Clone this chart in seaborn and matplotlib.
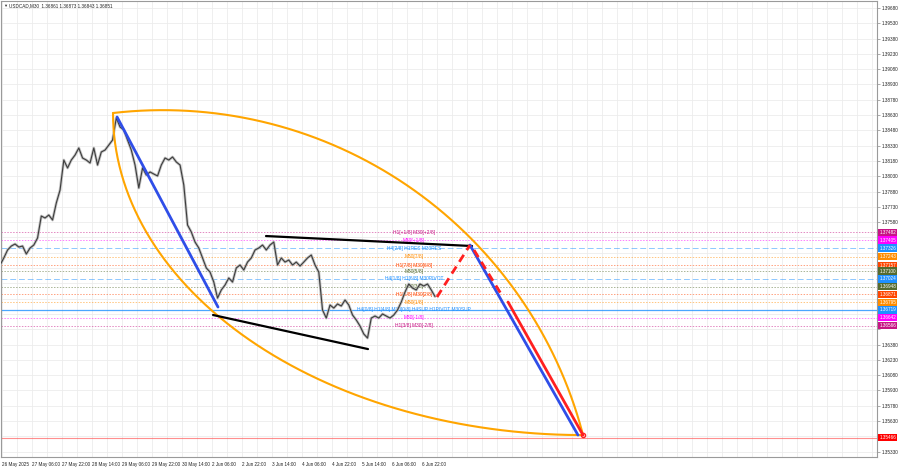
import matplotlib
matplotlib.use("Agg")  # no display in the sandbox
import matplotlib.pyplot as plt
import matplotlib.transforms as mtransforms
import numpy as np
import seaborn as sns

# USDCAD M30 closes, one value every 4 bars (2 hours)
closes = [
    1.37160, 1.37229, 1.37307, 1.37346, 1.37366, 1.37336, 1.37346, 1.37268, 1.37327, 1.37356,
    1.37425, 1.37640, 1.37621, 1.37650, 1.37601, 1.37768, 1.37895, 1.38189, 1.38111, 1.38189,
    1.38238, 1.38307, 1.38209, 1.38189, 1.38160, 1.38307, 1.38140, 1.38268, 1.38287, 1.38336,
    1.38385, 1.38601, 1.38513, 1.38484, 1.38385, 1.38287, 1.38140, 1.37915, 1.38111, 1.38042,
    1.38072, 1.38052, 1.38033, 1.38140, 1.38209, 1.38189, 1.38219, 1.38170, 1.38140, 1.37944,
    1.37552, 1.37484, 1.37385, 1.37327, 1.37229, 1.37131, 1.37091, 1.36993, 1.36836, 1.36915,
    1.36964, 1.37033, 1.36993, 1.37131, 1.37160, 1.37111, 1.37189, 1.37229, 1.37307, 1.37327,
    1.37356, 1.37307, 1.37356, 1.37385, 1.37160, 1.37229, 1.37189, 1.37209, 1.37160, 1.37189,
    1.37150, 1.37189, 1.37229, 1.37258, 1.37160, 1.37091, 1.36719, 1.36640, 1.36768, 1.36738,
    1.36778, 1.36758, 1.36817, 1.36768, 1.36670, 1.36621, 1.36562, 1.36484, 1.36444, 1.36640,
    1.36660, 1.36640, 1.36680, 1.36660, 1.36640, 1.36670, 1.36719, 1.36797, 1.36895, 1.36974,
    1.36934, 1.36915, 1.36974, 1.36954, 1.36974, 1.36915, 1.36851,
]
BAR_STEP = 4  # bars between two values above

# time axis: one label every 32 bars (16 hours)
time_labels = ["26 May 2025", "27 May 06:00", "27 May 22:00", "28 May 14:00", "29 May 06:00",
               "29 May 22:00", "30 May 14:00", "2 Jun 06:00", "2 Jun 22:00", "3 Jun 14:00",
               "4 Jun 06:00", "4 Jun 22:00", "5 Jun 14:00", "6 Jun 06:00", "6 Jun 22:00"]
FIRST_TICK = 2
TICK_STEP = 32

price_labels = ["1.39680", "1.39530", "1.39380", "1.39230", "1.39080", "1.38930", "1.38780",
                "1.38630", "1.38480", "1.38330", "1.38180", "1.38030", "1.37880", "1.37730",
                "1.37580", "1.37430", "1.37280", "1.37130", "1.36980", "1.36830", "1.36680",
                "1.36530", "1.36380", "1.36230", "1.36080", "1.35930", "1.35780", "1.35630",
                "1.35480", "1.35330"]

# Murrey math levels (H4 / H1 / M30)
level_prices = [1.37482, 1.37405, 1.37326, 1.37243, 1.37157, 1.37100, 1.37024,
                1.36948, 1.36871, 1.36795, 1.36719, 1.36642, 1.36566]
level_names = ["H1[+1/8] M30[+2/8]", "M30[+1/8]", "H4[2/8] H1RES M30RES", "M30[7/8]",
               "H1[7/8] M30[6/8]", "M30[5/8]", "H4[1/8] H1[6/8] M30PIVOT", "M30[3/8]",
               "H1[5/8] M30[2/8]", "M30[1/8]", "H4[0/8] H1[4/8] M30[0/8] H4SUP H1PIVOT M30SUP",
               "M30[-1/8]", "H1[3/8] M30[-2/8]"]
target_price = 1.35466

# drawn objects: (bar, price) anchors
blue_leg1 = ([124.8, 232.5], [1.38611, 1.36748])
blue_leg2 = ([501.3, 616.5], [1.37356, 1.35493])
upper_line = ([283.7, 503.5], [1.37444, 1.37346])
lower_line = ([227.2, 392.5], [1.36670, 1.36336])
red_up = ([466.1, 501.3], [1.36846, 1.37356])
red_down_dash = ([505.6, 536.5], [1.37307, 1.36846])
red_down = ([541.9, 621.9], [1.36797, 1.35493])
arc_start = (120.5, 1.38650)
arc_end = (621.9, 1.35493)

# colours
PURPLE = "#c71585"
MAGENTA = "#ff00ff"
BLUE = "#1e90ff"
ORANGE = "#ff8c00"
ORANGERED = "#ff4500"
OLIVE = "#556b2f"
level_colors = [PURPLE, MAGENTA, BLUE, ORANGE, ORANGERED, OLIVE, BLUE,
                OLIVE, ORANGERED, ORANGE, BLUE, MAGENTA, PURPLE]

# screen scale of the chart (pixels per bar, pixels per price unit)
PX_BAR = 0.9375
PX_PRICE = 10200.0


def circle_arc(p0, p1, angle_deg, n=200):
    """arc from p0 to p1 that leaves the chord at angle_deg (screen space)"""
    x0, y0 = p0[0] * PX_BAR, p0[1] * PX_PRICE
    x1, y1 = p1[0] * PX_BAR, p1[1] * PX_PRICE
    a = np.radians(angle_deg)
    chord = np.hypot(x1 - x0, y1 - y0)
    r = chord / (2 * np.sin(a))
    mx, my = (x0 + x1) / 2, (y0 + y1) / 2
    ux, uy = (x1 - x0) / chord, (y1 - y0) / chord
    nx, ny = -uy, ux
    cx, cy = mx - nx * r * np.cos(a), my - ny * r * np.cos(a)
    t0 = np.arctan2(y0 - cy, x0 - cx)
    t1 = np.arctan2(y1 - cy, x1 - cx)
    if t1 > t0:
        t1 -= 2 * np.pi
    t = np.linspace(t0, t1, n)
    return (cx + r * np.cos(t)) / PX_BAR, (cy + r * np.sin(t)) / PX_PRICE


sns.set_theme(style="white")
plt.rcParams["font.family"] = ["Liberation Sans", "DejaVu Sans"]

fig = plt.figure(figsize=(9, 4.68), dpi=100)
ax = fig.add_axes([1 / 900, 11 / 468, 876 / 900, 456 / 468])
ax.set_xlim(1, 935.5)
ax.set_ylim(1.35278, 1.39748)

# grid
for gx in np.arange(FIRST_TICK, 936, TICK_STEP / 2):
    ax.axvline(gx, color="#ececec", lw=0.6, zorder=0)
for lab in price_labels:
    ax.axhline(float(lab), color="#ececec", lw=0.6, zorder=0)

# levels
for p, c in zip(level_prices, level_colors):
    if p == 1.36719:
        ax.axhline(p, color=c, lw=0.9, alpha=0.8, zorder=1)
    elif c == BLUE:
        ax.axhline(p, color=c, lw=0.7, alpha=0.5, ls=(0, (6, 3)), zorder=1)
    else:
        ax.axhline(p, color=c, lw=0.7, alpha=0.5, ls=(0, (1.5, 1.5)), zorder=1)
ax.axhline(target_price, color="#ff6060", lw=0.8, alpha=0.7, zorder=1)

for p, name, c in zip(level_prices, level_names, level_colors):
    ax.text(441.6, p, name, color=c, fontsize=3.5, ha="center", va="center", zorder=2)

# price
bar_x = np.arange(len(closes)) * BAR_STEP
sns.lineplot(x=bar_x, y=closes, ax=ax, color="#b4b4b4", lw=2.0, alpha=0.8, zorder=3)
sns.lineplot(x=bar_x, y=closes, ax=ax, color="#3c3c3c", lw=0.8, zorder=4)

# arcs: upper one is a circle arc on screen, lower one a quarter ellipse
ux_, uy_ = circle_arc(arc_start, arc_end, 41)
ax.plot(ux_, uy_, color="#ffa500", lw=1.5, zorder=5)
theta = np.linspace(0, np.pi / 2, 200)
dx = arc_end[0] - arc_start[0]
dp = arc_start[1] - arc_end[1]
ax.plot(arc_end[0] - dx * np.cos(theta), arc_start[1] - dp * np.sin(theta),
        color="#ffa500", lw=1.5, zorder=5)

# trend lines
ax.plot(*upper_line, color="black", lw=1.6, zorder=6)
ax.plot(*lower_line, color="black", lw=1.6, zorder=6)
ax.plot(*blue_leg1, color="#2f4ee8", lw=2, zorder=6)
ax.plot(*blue_leg2, color="#2f4ee8", lw=2, zorder=6)
ax.plot(*red_up, color="#ff2020", lw=2, ls=(0, (3, 2)), zorder=7)
ax.plot(*red_down_dash, color="#ff2020", lw=2, ls=(0, (3, 2)), zorder=7)
ax.plot(*red_down, color="#ff2020", lw=2, zorder=7)
ax.plot(arc_end[0], arc_end[1], marker="o", ms=3, mfc="none", mec="#ff2020", zorder=8)

# axes
ax.set_xticks([FIRST_TICK + TICK_STEP * i for i in range(len(time_labels))])
ax.set_xticklabels(time_labels, ha="left", fontsize=3.3, color="#222222")
ax.yaxis.tick_right()
shown = []
for lab in price_labels:
    hidden = any(abs(float(lab) - p) < 0.00045 for p in level_prices + [target_price])
    shown.append("" if hidden else lab)
ax.set_yticks([float(lab) for lab in price_labels])
ax.set_yticklabels(shown, fontsize=3.3, color="#222222")
ax.tick_params(axis="both", length=2, width=0.5, color="#888888", pad=1.5)
for s in ax.spines.values():
    s.set_color("#9a9a9a")
    s.set_linewidth(0.8)

# coloured price boxes on the right
trans = mtransforms.blended_transform_factory(ax.transAxes, ax.transData)
for p, c in zip(level_prices + [target_price], level_colors + ["#ff0000"]):
    ax.text(1.0025, p, f"{p:.5f}", transform=trans, fontsize=3.3, color="white",
            ha="left", va="center", clip_on=False, zorder=10,
            bbox=dict(boxstyle="square,pad=0.25", fc=c, ec="none"))

fig.text(3 / 900, 1 - 6 / 468, "\u25bc", fontsize=3, va="center", color="#333333")
fig.text(9 / 900, 1 - 6 / 468, "USDCAD,M30  1.36861 1.36873 1.36843 1.36851",
         fontsize=3.3, va="center", color="#222222")

fig.savefig("out.png", dpi=100)
